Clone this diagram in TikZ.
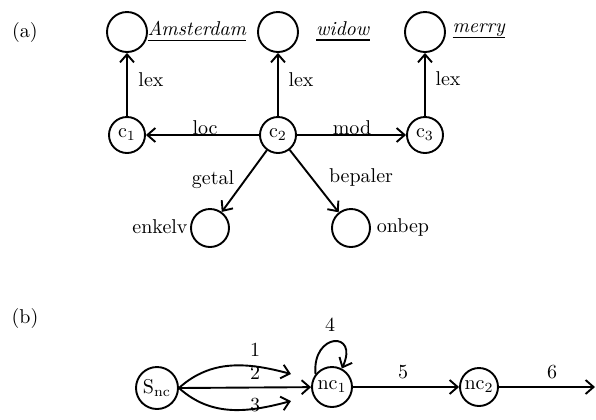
\documentclass[tikz,border=0pt]{standalone}
\usetikzlibrary{arrows.meta}
\newcommand\ulword[1]{\setbox0\hbox{#1}\rlap{\copy0}\rule[-2.6pt]{\wd0}{0.6pt}}
\begin{document}
\begin{tikzpicture}[x=0.5pt,y=0.5pt,line width=0.95pt,
  state/.style={circle,draw,inner sep=0pt},
  big/.style={state,minimum size=20pt},
  small/.style={state,minimum size=18pt},
  arr/.style={-{Straight Barb[length=4pt,width=7pt]}},
  lbl/.style={inner sep=0pt}]
\useasboundingbox (0,0) rectangle (596,-419);
% part (a)
\node[lbl] (la) at (25,-32) {(a)};
\node[big] (t1) at (127,-32) {};
\node[big] (t2) at (278,-32) {};
\node[big] (t3) at (425,-32) {};
\node[small] (c1) at (127,-135) {c$_1$};
\node[small] (c2) at (278,-135) {c$_2$};
\node[small] (c3) at (425,-135) {c$_3$};
\node[state,minimum size=19pt] (e) at (210,-228) {};
\node[state,minimum size=19pt] (o) at (351,-228) {};
\node[lbl] (wA) at (197,-31) {\ulword{\textit{Amsterdam}}};
\node[lbl] (wW) at (343,-31) {\ulword{\textit{widow}}};
\node[lbl] (wM) at (479,-31) {\ulword{\textit{merry}}};
\draw[arr] (c1) -- (t1);
\draw[arr] (c2) -- (t2);
\draw[arr] (c3) -- (t3);
\draw[arr] (c2) -- (c1);
\draw[arr] (c2) -- (c3);
\draw[arr] (c2) -- (e);
\draw[arr] (c2) -- (o);
\node[lbl] (l1) at (151,-80) {lex};
\node[lbl] (l2) at (301,-80) {lex};
\node[lbl] (l3) at (448,-79) {lex};
\node[lbl] (lloc) at (205,-128) {loc};
\node[lbl] (lmod) at (352,-128) {mod};
\node[lbl] (lget) at (213,-180) {getal};
\node[lbl] (lbep) at (361,-177) {bepaler};
\node[lbl] (len) at (160,-227) {enkelv};
\node[lbl] (lon) at (403,-227) {onbep};
% part (b)
\node[lbl] (lb) at (25,-318) {(b)};
\node[state,minimum size=21pt] (S) at (157,-388) {S$_{\mathrm{nc}}$};
\node[state,minimum size=20pt] (n1) at (332,-387) {nc$_1$};
\node[state,minimum size=19pt] (n2) at (479,-387) {nc$_2$};
\coordinate (a1end) at (291,-374);
\coordinate (a3end) at (291,-401);
\coordinate (fin) at (595,-387);
\draw[arr] (S.east) to[out=42,in=165] (a1end);
\draw[arr] (S.east) -- (n1);
\draw[arr] (S.east) to[out=-42,in=-165] (a3end);
\draw[arr] (n1.142) .. controls +(95:42) and +(65:42) .. (n1.62);
\draw[arr] (n1) -- (n2);
\draw[arr] (n2) -- (fin);
\node[lbl] (k1) at (255,-350) {1};
\node[lbl] (k2) at (255,-373) {2};
\node[lbl] (k3) at (255,-405) {3};
\node[lbl] (k4) at (330,-325) {4};
\node[lbl] (k5) at (403,-372) {5};
\node[lbl] (k6) at (552,-372) {6};
\end{tikzpicture}
\end{document}
